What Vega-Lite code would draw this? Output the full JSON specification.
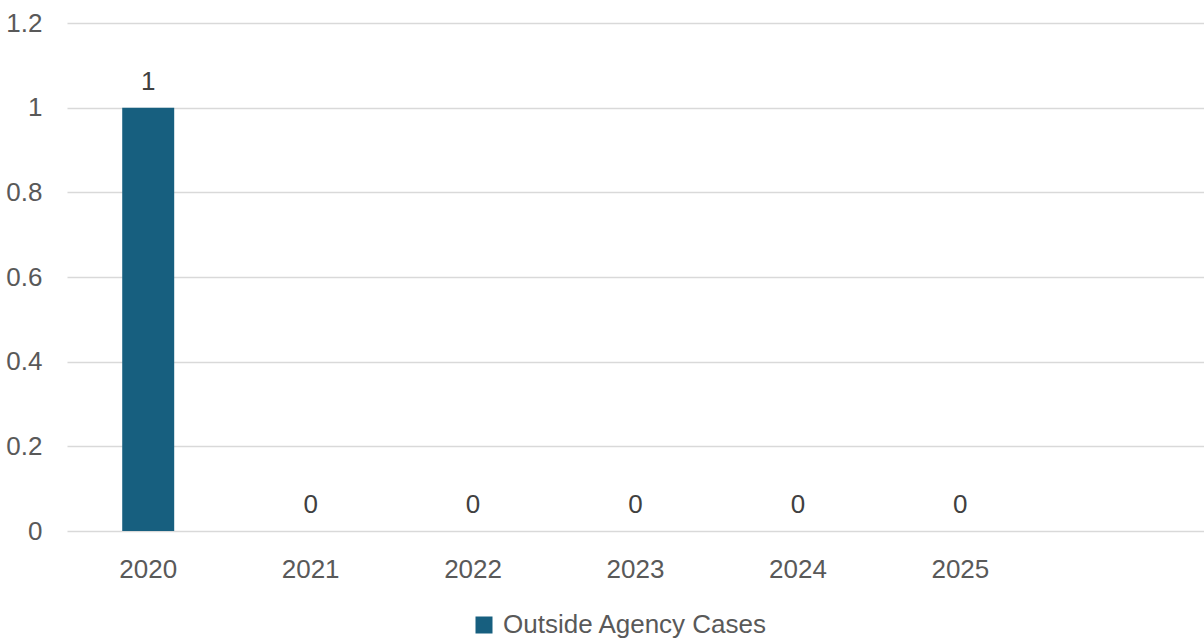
{
  "$schema": "https://vega.github.io/schema/vega-lite/v6.json",
  "width": 1137,
  "height": 508,
  "autosize": "none",
  "padding": {"left": 67, "top": 23, "right": 0, "bottom": 109},
  "background": "white",
  "config": {
    "view": {"stroke": null},
    "font": "Liberation Sans",
    "axis": {"labelFont": "Liberation Sans", "labelColor": "#595959", "labelFontSize": 26},
    "legend": {"labelFont": "Liberation Sans", "labelColor": "#595959", "labelFontSize": 26}
  },
  "data": {
    "values": [
      {"year": "2020", "cases": 1, "series": "Outside Agency Cases"},
      {"year": "2021", "cases": 0, "series": "Outside Agency Cases"},
      {"year": "2022", "cases": 0, "series": "Outside Agency Cases"},
      {"year": "2023", "cases": 0, "series": "Outside Agency Cases"},
      {"year": "2024", "cases": 0, "series": "Outside Agency Cases"},
      {"year": "2025", "cases": 0, "series": "Outside Agency Cases"}
    ]
  },
  "encoding": {
    "x": {
      "field": "year",
      "type": "nominal",
      "scale": {"domain": ["2020", "2021", "2022", "2023", "2024", "2025", " "], "paddingInner": 0.68, "paddingOuter": 0.34},
      "axis": {"title": null, "labelAngle": 0, "ticks": false, "domain": false, "labelPadding": 25, "grid": false}
    },
    "y": {
      "field": "cases",
      "type": "quantitative",
      "scale": {"domain": [0, 1.2], "nice": false},
      "axis": {"title": null, "values": [0, 0.2, 0.4, 0.6, 0.8, 1, 1.2], "format": ".1~f", "ticks": false, "domain": false, "labelPadding": 25, "gridColor": "#d9d9d9", "gridWidth": 1.5, "labelBaseline": "middle"}
    }
  },
  "layer": [
    {
      "mark": {"type": "bar"},
      "encoding": {
        "color": {
          "field": "series",
          "type": "nominal",
          "scale": {"range": ["#175f7f"]},
          "legend": {"title": null, "orient": "none", "legendX": 404, "legendY": 589, "padding": 0, "direction": "horizontal", "symbolType": "square", "symbolSize": 289, "symbolStrokeWidth": 0, "labelOffset": 6, "labelLimit": 500}
        }
      }
    },
    {
      "mark": {"type": "text", "dy": -18, "baseline": "alphabetic", "fontSize": 26, "color": "#404040", "font": "Liberation Sans"},
      "encoding": {"text": {"field": "cases", "type": "quantitative"}}
    }
  ]
}
